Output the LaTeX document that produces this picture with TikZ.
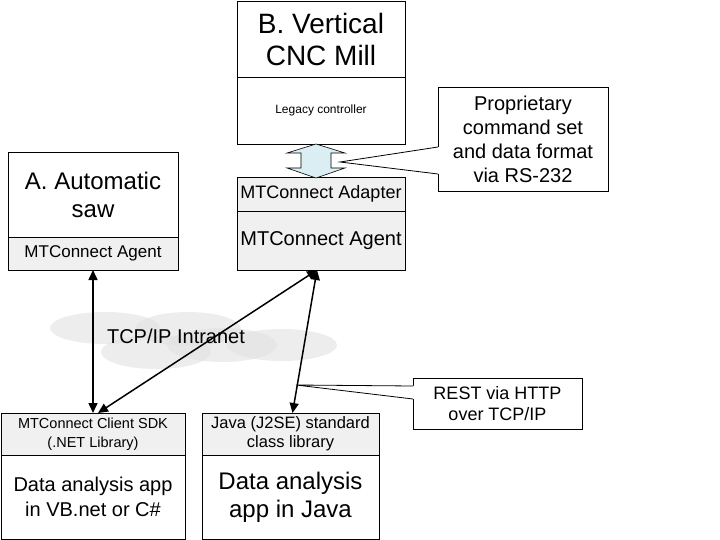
\documentclass[tikz,border=0pt]{standalone}
\usepackage{fontspec}
\setmainfont{Liberation Sans}
\usetikzlibrary{arrows.meta,calc}

\definecolor{partgray}{RGB}{240,240,240}
\definecolor{serialblue}{RGB}{219,238,243}
\definecolor{cloudgray}{RGB}{225,225,225}

\newcommand{\fs}[2]{\fontsize{#1}{#2}\selectfont}

\begin{document}
\begin{tikzpicture}[x=1pt, y=-1pt]

  \tikzset{
    part/.style = {
      draw,
      line width = 0.8pt,
      anchor = north west,
      inner sep = 0pt,
      outer sep = 0pt,
      align = center},
    libpart/.style = {part, fill=partgray},
    link/.style = {
      line width = 1.5pt,
      {Triangle[length=10pt,width=9pt]}-{Triangle[length=10pt,width=9pt]}},
    note/.style = {part, fill=white},
    puff/.style = {fill=cloudgray, opacity=0.6}}

  \useasboundingbox (0,0) rectangle (720,540);

  % intranet cloud
  \fill[puff] (105,328) ellipse (55 and 16);
  \fill[puff] (156,352) ellipse (55 and 17);
  \fill[puff] (188,329) ellipse (53 and 17);
  \fill[puff] (222,345) ellipse (55 and 17);
  \fill[puff] (282,345) ellipse (55 and 16);
  \node[font=\fs{20}{24}] (lan) at (176,336) {TCP/IP Intranet};

  % machine B
  \node[part, minimum width=168, minimum height=76, font=\fs{28}{32}] (millName) at (237,1)
    {B. Vertical\\CNC Mill};
  \node[part, minimum width=168, minimum height=67, font=\fs{12}{14}] (millCtl) at (237,77)
    {Legacy controller};
  \node[libpart, minimum width=168, minimum height=34, font=\fs{18}{20}] (mtAdapter) at (237,177)
    {MTConnect Adapter};
  \node[libpart, minimum width=168, minimum height=59, font=\fs{20}{22}] (agentB) at (237,211)
    {MTConnect Agent};

  % machine A
  \node[part, minimum width=170, minimum height=85, font=\fs{24}{28}] (sawName) at (8,152)
    {A. Automatic\\saw};
  \node[libpart, minimum width=170, minimum height=33, font=\fs{17}{19}] (agentA) at (8,237)
    {MTConnect Agent};

  % client apps
  \node[libpart, minimum width=184, minimum height=42, font=\fs{14.5}{19}] (sdkLib) at (1,413)
    {MTConnect Client SDK\\(.NET Library)};
  \node[part, minimum width=184, minimum height=84, font=\fs{20}{25}] (vbApp) at (1,455)
    {Data analysis app\\in VB.net or C\#};
  \node[libpart, minimum width=177, minimum height=42, font=\fs{16.5}{19}] (javaLib) at (202,413)
    {Java (J2SE) standard\\class library};
  \node[part, minimum width=177, minimum height=84, font=\fs{24}{28}] (javaApp) at (202,455)
    {Data analysis\\app in Java};

  % serial link
  \draw[line width=0.6pt, fill=serialblue] ([xshift=-5pt]millCtl.south)
    -- ++(29,9) -- ++(-14,0) -- ++(0,15) -- ++(14,0) -- ++(-29,10)
    -- ++(-29,-10) -- ++(14,0) -- ++(0,-15) -- ++(-14,0) -- cycle;

  % network links
  \draw[link] (agentA.south) -- (sdkLib.north);
  \draw[link] ([xshift=-4pt]agentB.south) -- ([xshift=5pt]sdkLib.north);
  \draw[link] ([xshift=-4pt]agentB.south) -- ([xshift=2pt]javaLib.north);

  % callouts
  \node[note, minimum width=170, minimum height=104, font=\fs{20}{24}] (rsNote) at (438,87)
    {Proprietary\\command set\\and data format\\via RS-232};
  \coordinate (rsTip) at (340,162);
  \coordinate (rsA) at (rsNote.west |- 0,147);
  \coordinate (rsB) at (rsNote.west |- 0,174);
  \fill[white] ($(rsA)+(1,0)$) -- (rsTip) -- ($(rsB)+(1,0)$) -- cycle;
  \draw[line width=0.8pt] (rsA) -- (rsTip) -- (rsB);

  \node[note, minimum width=169, minimum height=51, font=\fs{18}{21}] (restNote) at (413,378)
    {REST via HTTP\\over TCP/IP};
  \coordinate (restTip) at (296,385);
  \coordinate (restA) at (restNote.west |- 0,386);
  \coordinate (restB) at (restNote.west |- 0,399);
  \fill[white] ($(restA)+(1,0)$) -- (restTip) -- ($(restB)+(1,0)$) -- cycle;
  \draw[line width=0.8pt] (restA) -- (restTip) -- (restB);

\end{tikzpicture}
\end{document}
